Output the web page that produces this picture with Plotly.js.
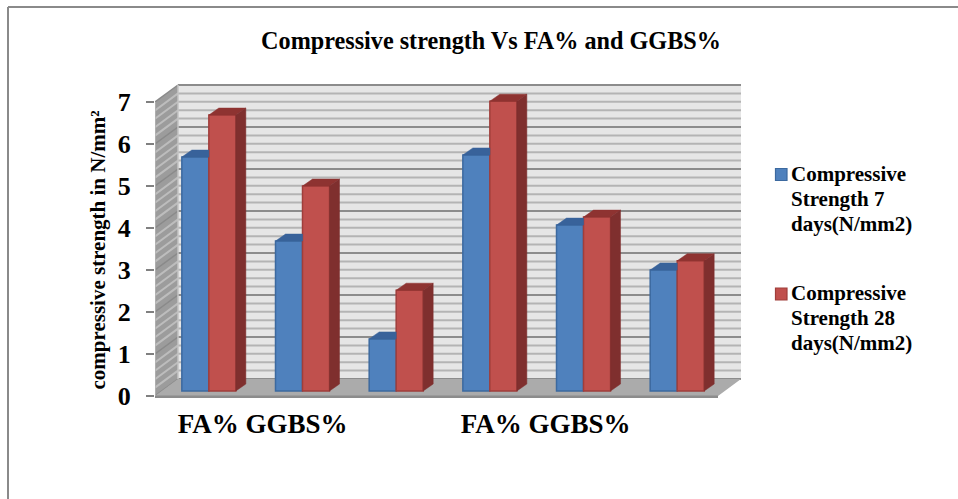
<!DOCTYPE html>
<html>
<head>
<meta charset="utf-8">
<script src="https://cdn.plot.ly/plotly-3.0.1.min.js"></script>
<style>html,body{margin:0;padding:0;background:#fff}#chart{width:958px;height:499px}</style>
</head>
<body>
<div id="chart"></div>
<script>
// Measured strengths for the six mixes
const seriesNames = ['Compressive Strength 7 days(N/mm2)', 'Compressive Strength 28 days(N/mm2)'];
const legendLines7 = ['Compressive', 'Strength 7', 'days(N/mm2)'];
const legendLines28 = ['Compressive', 'Strength 28', 'days(N/mm2)'];
const strength7 = [5.57, 3.57, 1.24, 5.62, 3.95, 2.88];
const strength28 = [6.57, 4.88, 2.4, 6.9, 4.14, 3.1];
const groupLabels = ['FA% GGBS%', 'FA% GGBS%'];
const groupLabelAt = [1.15, 4.17];
const yTicks = [0, 1, 2, 3, 4, 5, 6, 7];

const FONT = '"Liberation Serif","Times New Roman",serif';
const PX_X = 93.67, PX_Y = 42;            // pixels per data unit
const L = 155, FLOOR = 396, TOPPX = 82, RIGHT = 741, BOTTOM = 418;
const wallDx = 23 / PX_X, wallDy = 17 / PX_Y;   // box depth
const barDx = 7 / PX_X, barDy = 5 / PX_Y;       // front face of the bars inside the box
const faceDx = 10 / PX_X, faceDy = 7 / PX_Y;    // depth of one bar
const barW = 27 / PX_X;
const xMax = (RIGHT - L) / PX_X;
const centers = strength7.map((_, i) => i + 0.5 + barDx);
const paperX = px => (px - L) / (RIGHT - L);
const paperY = px => (BOTTOM - px) / (BOTTOM - TOPPX);

// Box: back wall, side wall, floor and their grid lines
const shapes = [];
const poly = (pts, fill) => shapes.push({
  type: 'path', xref: 'x', yref: 'y', layer: 'below', fillcolor: fill, line: {width: 0},
  path: 'M' + pts.map(p => p[0] + ',' + p[1]).join('L') + 'Z'
});
const seg = (x0, y0, x1, y1, color, width) => shapes.push({
  type: 'line', xref: 'x', yref: 'y', layer: 'below', x0, y0, x1, y1, line: {color, width}
});
poly([[wallDx, wallDy], [xMax, wallDy], [xMax, 7 + wallDy], [wallDx, 7 + wallDy]], '#e6e6e6');
poly([[0, 0], [wallDx, wallDy], [wallDx, 7 + wallDy], [0, 7]], '#9c9c9c');
for (let k = 0; k <= 35; k++) {
  const v = k / 5, major = k % 5 === 0;
  seg(wallDx, v + wallDy, xMax, v + wallDy, major ? '#8c8c8c' : '#b4b4b4', 2);
  seg(0, v, wallDx, v + wallDy, major ? '#8a8a8a' : '#bdbdbd', major ? 1.5 : 2);
}
poly([[0, 0], [wallDx, wallDy], [xMax, wallDy], [xMax - wallDx, 0]], '#ababab');
seg(wallDx, wallDy, wallDx, 7 + wallDy, '#c4c4c4', 1.5);
seg(0, -0.02, xMax - wallDx, -0.02, '#8c8c8c', 2.5);
seg(0, 0, 0, 7, '#b5b5b5', 1.5);

// Outer frame of the figure
const frame = (x0, y0, x1, y1) => shapes.push({
  type: 'line', xref: 'paper', yref: 'paper', layer: 'above',
  x0: paperX(x0), x1: paperX(x1), y0: paperY(y0), y1: paperY(y1),
  line: {color: '#8a8a8a', width: 2}
});
frame(8, 7, 958, 7);
frame(8, 7, 8, 499);

// Legend keys and their three-line captions
const annotations = [];
const legendEntry = (lines, lineY, keyTop, color, edge) => {
  shapes.push({
    type: 'rect', xref: 'paper', yref: 'paper', layer: 'above',
    x0: paperX(775.5), x1: paperX(787), y0: paperY(keyTop), y1: paperY(keyTop + 12),
    fillcolor: color, line: {color: edge, width: 1.2}
  });
  lines.forEach((t, i) => annotations.push({
    text: '<b>' + t + '</b>', xref: 'paper', yref: 'paper', showarrow: false,
    x: paperX(791), y: paperY(lineY[i]), xanchor: 'left', yanchor: 'middle',
    xshift: -2.5, font: {family: FONT, size: 21, color: '#000'}
  }));
};
legendEntry(legendLines7, [174, 199, 224], 168.5, '#4f81bd', '#3c699f');
legendEntry(legendLines28, [293, 318, 343], 288, '#c0504d', '#a03e3b');

const base = centers.map(() => barDy);
const frontBar = (name, y, color, edge) => ({
  type: 'bar', name, x: centers, y, base,
  marker: {color, line: {color: edge, width: 1.5}}, hoverinfo: 'skip'
});

// Top and side faces, built per bar from the same values as the front faces
const faces = (vals, leftOf, clipRight, sided, topColor, sideColor) => {
  const tx = [], ty = [], sx = [], sy = [];
  vals.forEach((v, i) => {
    const x0 = leftOf(i), x1 = x0 + barW, t = v + barDy;
    tx.push(x0, x1, clipRight ? x1 : x1 + faceDx, x0 + faceDx, x0, null);
    ty.push(t, t, t + faceDy, t + faceDy, t, null);
    if (sided) {
      sx.push(x1, x1 + faceDx, x1 + faceDx, x1, x1, null);
      sy.push(t, t + faceDy, barDy + faceDy, barDy, t, null);
    }
  });
  const mk = (x, y, c) => ({
    type: 'scatter', mode: 'lines', x, y, fill: 'toself', fillcolor: c,
    line: {width: 0.5, color: c}, showlegend: false, hoverinfo: 'skip'
  });
  return sided ? [mk(tx, ty, topColor), mk(sx, sy, sideColor)] : [mk(tx, ty, topColor)];
};

const traces = [
  frontBar(seriesNames[0], strength7, '#4f81bd', '#3c699f'),
  frontBar(seriesNames[1], strength28, '#c0504d', '#a03e3b'),
  ...faces(strength7, i => centers[i] - barW, true, false, '#38629a', '#38629a'),
  ...faces(strength28, i => centers[i], false, true, '#8e3331', '#7f2f2e')
];

const layout = {
  width: 958, height: 499,
  margin: {l: L, r: 958 - RIGHT, t: TOPPX, b: 499 - BOTTOM, pad: 0},
  paper_bgcolor: '#fff', plot_bgcolor: 'rgba(0,0,0,0)',
  font: {family: FONT, color: '#000'},
  title: {
    text: '<b>Compressive strength Vs FA% and GGBS%</b>',
    font: {family: FONT, size: 24.2, color: '#000'},
    xref: 'container', yref: 'container', x: 491 / 958, y: 1 - 41 / 499,
    xanchor: 'center', yanchor: 'middle'
  },
  barmode: 'group',
  bargap: 1 - 2 * barW, bargroupgap: 0,
  showlegend: false,
  xaxis: {
    range: [0, xMax], showgrid: false, zeroline: false, showline: false,
    anchor: 'free', position: paperY(FLOOR),
    tickmode: 'array', tickvals: groupLabelAt, ticktext: groupLabels, ticks: '',
    ticklabelstandoff: 9,
    tickfont: {family: FONT, size: 27, color: '#000', weight: 'bold'}
  },
  yaxis: {
    range: [(FLOOR - BOTTOM) / PX_Y, (FLOOR - TOPPX) / PX_Y], showgrid: false, zeroline: false, showline: false,
    tickmode: 'array', tickvals: yTicks, ticks: 'outside', ticklen: 8, tickwidth: 2, tickcolor: '#808080',
    ticklabelstandoff: 10,
    tickfont: {family: FONT, size: 26, color: '#000', weight: 'bold'},
    title: {
      text: '<b>compressive strength in N/mm²</b>',
      font: {family: FONT, size: 21, color: '#000'}, standoff: 6
    }
  },
  shapes, annotations
};

Plotly.newPlot('chart', traces, layout, {displayModeBar: false, staticPlot: true});
</script>
</body>
</html>
